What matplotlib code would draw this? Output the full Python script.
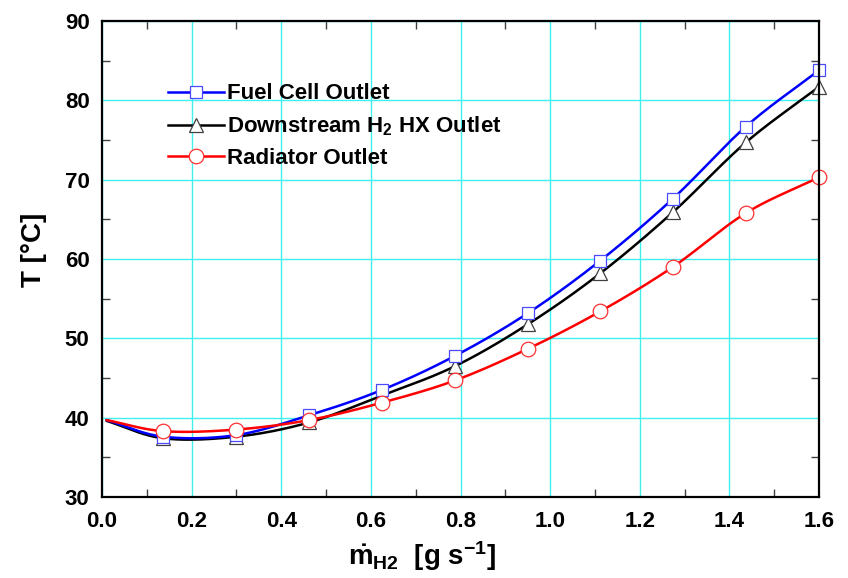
import numpy as np
import matplotlib
matplotlib.use("Agg")
import matplotlib.pyplot as plt
from matplotlib.lines import Line2D
from matplotlib.ticker import MultipleLocator

plt.rcParams["font.family"] = ["Liberation Sans", "DejaVu Sans"]
plt.rcParams["font.weight"] = "bold"
plt.rcParams["mathtext.fontset"] = "custom"
plt.rcParams["mathtext.rm"] = "Liberation Sans:bold"
plt.rcParams["mathtext.it"] = "Liberation Sans:bold"
plt.rcParams["mathtext.bf"] = "Liberation Sans:bold"

# Hydrogen mass flow rate [g/s]
m_h2 = [0.01, 0.137, 0.299, 0.462, 0.625, 0.788, 0.951, 1.112, 1.274, 1.437, 1.6]
# Coolant temperatures [°C]
t_fuel_cell = [39.7, 37.6, 37.8, 40.3, 43.5, 47.8, 53.2, 59.8, 67.6, 76.7, 83.8]
t_h2_hx = [39.6, 37.4, 37.6, 39.4, 42.8, 46.5, 51.8, 58.2, 65.9, 74.7, 81.7]
t_radiator = [39.7, 38.3, 38.5, 39.7, 41.9, 44.7, 48.7, 53.4, 59.0, 65.8, 70.3]

labels = ["Fuel Cell Outlet", "Downstream H$_2$ HX Outlet", "Radiator Outlet"]


def smooth_path(x, y, n=30):
    """Catmull-Rom curve through the given points for a smooth line."""
    x = np.asarray(x, float)
    y = np.asarray(y, float)
    px = np.concatenate([[2 * x[0] - x[1]], x, [2 * x[-1] - x[-2]]])
    py = np.concatenate([[2 * y[0] - y[1]], y, [2 * y[-1] - y[-2]]])
    xs, ys = [], []
    t = np.linspace(0, 1, n, endpoint=False)
    for i in range(1, len(px) - 2):
        for arr, out in ((px, xs), (py, ys)):
            p0, p1, p2, p3 = arr[i - 1], arr[i], arr[i + 1], arr[i + 2]
            out.append(0.5 * ((2 * p1) + (-p0 + p2) * t
                              + (2 * p0 - 5 * p1 + 4 * p2 - p3) * t ** 2
                              + (-p0 + 3 * p1 - 3 * p2 + p3) * t ** 3))
    xs.append([x[-1]])
    ys.append([y[-1]])
    return np.concatenate(xs), np.concatenate(ys)


fig = plt.figure(figsize=(8.48, 5.78), dpi=100)
ax = fig.add_axes([0.1203, 0.1401, 0.8455, 0.8236])

styles = [
    (t_h2_hx, "black", "^", "#404040", 10.5),
    (t_fuel_cell, "#0000ff", "s", "#4a4aff", 9),
    (t_radiator, "#ff0000", "o", "#ff3030", 10.5),
]
for ys, lc, mk, mc, ms in styles:
    sx, sy = smooth_path(m_h2, ys)
    ax.plot(sx, sy, color=lc, lw=1.8, zorder=3, solid_capstyle="round")
for ys, lc, mk, mc, ms in styles:
    ax.plot(m_h2[1:], ys[1:], linestyle="none", marker=mk, ms=ms,
            mfc="white", mec=mc, mew=0.9, zorder=4, clip_on=False)

handles = [
    Line2D([], [], color="#0000ff", lw=1.8, marker="s", ms=9, mfc="white", mec="#4a4aff", mew=0.9),
    Line2D([], [], color="black", lw=1.8, marker="^", ms=10.5, mfc="white", mec="#404040", mew=0.9),
    Line2D([], [], color="#ff0000", lw=1.8, marker="o", ms=10.5, mfc="white", mec="#ff3030", mew=0.9),
]
ax.legend(handles, labels, loc="upper left", bbox_to_anchor=(0.092, 0.869),
          frameon=False, fontsize=16, handlelength=2.5, handletextpad=0.15,
          labelspacing=0.45, borderaxespad=0, borderpad=0)

ax.set_xlim(0, 1.6)
ax.set_ylim(30, 90)
ax.xaxis.set_major_locator(MultipleLocator(0.2))
ax.xaxis.set_minor_locator(MultipleLocator(0.1))
ax.yaxis.set_major_locator(MultipleLocator(10))
ax.yaxis.set_minor_locator(MultipleLocator(5))
ax.xaxis.set_major_formatter(matplotlib.ticker.FormatStrFormatter("%.1f"))

ax.grid(True, which="major", color="#40f0f0", lw=1.0, zorder=1)
ax.set_axisbelow(True)
ax.tick_params(which="major", length=0, labelsize=16, pad=10)
ax.tick_params(which="minor", direction="in", length=6, width=1.0,
               color="#404040", top=True, right=True)
ax.tick_params(axis="y", which="major", pad=9)
for lab in ax.get_xticklabels() + ax.get_yticklabels():
    lab.set_fontweight("bold")
for sp in ax.spines.values():
    sp.set_linewidth(1.6)
    sp.set_zorder(5)

ax.set_ylabel("T [°C]", fontsize=20, fontweight="bold")
ax.yaxis.set_label_coords(-0.077, 0.52)
ax.set_xlabel(r"$\dot{m}_{H2}$  [g s$^{-1}$]", fontsize=20, fontweight="bold")
ax.xaxis.set_label_coords(0.446, -0.088)

fig.savefig("out.png", dpi=100)
